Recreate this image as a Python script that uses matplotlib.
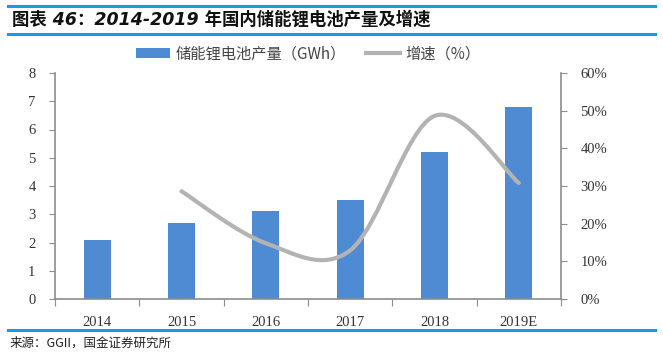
import matplotlib
matplotlib.use("Agg")
import matplotlib.pyplot as plt
from matplotlib.path import Path
from matplotlib.patches import PathPatch
from matplotlib.lines import Line2D
from matplotlib.patches import Patch
import numpy as np

categories = ["2014", "2015", "2016", "2017", "2018", "2019E"]
production = [2.1, 2.7, 3.1, 3.5, 5.2, 6.8]
growth_years = ["2015", "2016", "2017", "2018", "2019E"]
growth = [28.6, 14.8, 12.9, 48.6, 30.8]
left_ticks = [0, 1, 2, 3, 4, 5, 6, 7, 8]
right_ticks = [0, 10, 20, 30, 40, 50, 60]

title = "图表 46：2014-2019 年国内储能锂电池产量及增速"
source = "来源：GGII，国金证券研究所"
legend_bar = "储能锂电池产量（GWh）"
legend_line = "增速（%）"

BLUE = "#4F8BD2"
GREY = "#B3B3B3"
AX = "#8C8C8C"
CJK = ["Noto Sans CJK SC", "DejaVu Sans"]
TITLEF = ["DejaVu Sans", "Noto Sans CJK SC"]
SERIF = ["Liberation Serif", "DejaVu Serif"]

fig = plt.figure(figsize=(6.63, 3.56), dpi=100)
ax = fig.add_axes([55/663, 1-299/356, (561-55)/663, (299-73)/356])
x = np.arange(len(categories))
ax.bar(x, production, width=0.32, color=BLUE, zorder=2)
ax.set_xlim(-0.5, len(categories)-0.5)
ax.set_ylim(0, 8)
ax.set_yticks(left_ticks)
ax.set_yticklabels([str(t) for t in left_ticks], family=SERIF, fontsize=10.5, color="#333333")
ax.set_xticks(np.arange(len(categories)+1)-0.5, minor=False)
ax.set_xticklabels([])
ax.set_xticks(x, minor=True)
ax.set_xticklabels(categories, minor=True, family=SERIF, fontsize=10.5, color="#333333")
ax.tick_params(axis="x", which="major", length=5, color=AX, direction="out")
ax.tick_params(axis="x", which="minor", length=0, pad=12)
ax.tick_params(axis="y", length=4, color=AX, direction="out", pad=10)
for s in ["top", "right"]:
    ax.spines[s].set_visible(False)
for s in ["left", "bottom"]:
    ax.spines[s].set_color(AX)
    ax.spines[s].set_linewidth(1.2)

ax2 = ax.twinx()
ax2.set_ylim(0, 60)
ax2.set_yticks(right_ticks)
ax2.set_yticklabels([f"{t}%" for t in right_ticks], family=SERIF, fontsize=10.5, color="#333333")
ax2.tick_params(axis="y", length=4, color=AX, direction="out", pad=10)
for s in ["top", "left", "bottom"]:
    ax2.spines[s].set_visible(False)
ax2.spines["right"].set_color(AX)
ax2.spines["right"].set_linewidth(1.2)

# smooth line through growth points (Catmull-Rom as cubic Bezier)
gx = np.array([categories.index(c) for c in growth_years], dtype=float)
gy = np.array(growth, dtype=float)
sx = (561-55)/6.0
sy = (299-73)/60.0
P = np.column_stack([gx*sx, gy*sy])
verts = [tuple(P[0])]
codes = [Path.MOVETO]
n = len(P)
for i in range(n-1):
    p0 = P[i-1] if i > 0 else P[i]
    p1 = P[i]
    p2 = P[i+1]
    p3 = P[i+2] if i+2 < n else P[i+1]
    c1 = p1 + (p2 - p0)/6.0
    c2 = p2 - (p3 - p1)/6.0
    verts += [tuple(c1), tuple(c2), tuple(p2)]
    codes += [Path.CURVE4]*3
verts = [(vx/sx, vy/sy) for vx, vy in verts]
path = Path(verts, codes)
ax2.add_patch(PathPatch(path, facecolor="none", edgecolor=GREY, lw=3.0,
                        capstyle="round", zorder=3))

# legend
handles = [Patch(facecolor=BLUE, edgecolor="none"),
           Line2D([0], [0], color=GREY, lw=3.0)]
leg = fig.legend(handles, [legend_bar, legend_line], loc="center",
                 bbox_to_anchor=(0.5 - 23/663, 1-54/356), ncol=2, frameon=False,
                 prop={"family": CJK, "size": 11}, handlelength=2.2,
                 handleheight=0.6, columnspacing=1.3, handletextpad=0.4)
for t in leg.get_texts():
    t.set_color("#444444")

# title band
LB = "#1A9AE0"
fig.add_artist(Line2D([8/663, 655/663], [1-6/356, 1-6/356], color=LB, lw=2.2))
fig.add_artist(Line2D([8/663, 655/663], [1-34/356, 1-34/356], color=LB, lw=2.2))
fig.text(12/663, 1-20/356, title, family=TITLEF, fontsize=12.5, fontweight="bold",
         style="italic", va="center", ha="left", color="#111111")
# footer
fig.add_artist(Line2D([8/663, 655/663], [1-330/356, 1-330/356], color=LB, lw=2.2))
fig.text(10/663, 1-343/356, source, family=CJK, fontsize=9, va="center", ha="left",
         color="#222222")

fig.savefig("out.png", dpi=100)
